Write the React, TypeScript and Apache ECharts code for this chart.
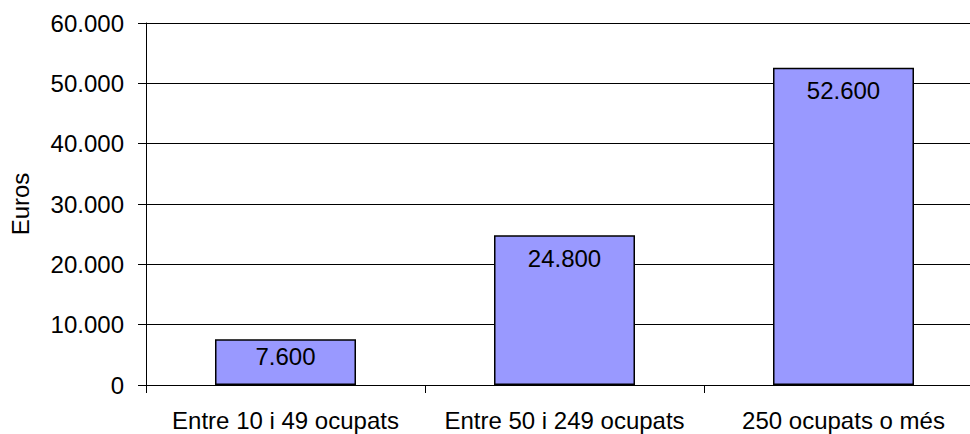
import React, { useEffect, useRef } from "react";
import * as echarts from "echarts";

const categories = ["Entre 10 i 49 ocupats", "Entre 50 i 249 ocupats", "250 ocupats o més"];
const values = [7600, 24800, 52600];
const yTicks = [0, 10000, 20000, 30000, 40000, 50000, 60000];

const fmt = (v: number) => {
  const s = String(Math.round(v));
  return s.replace(/\B(?=(\d{3})+(?!\d))/g, ".");
};

export default function App() {
  const ref = useRef<HTMLDivElement>(null);
  useEffect(() => {
    if (!ref.current) return;
    const chart = echarts.init(ref.current, undefined, { renderer: "svg" });
    const font = "'Liberation Sans', Arial, sans-serif";
    chart.setOption({
      animation: false,
      backgroundColor: "#ffffff",
      grid: { left: 146, right: 0, top: 23, bottom: 49, containLabel: false },
      xAxis: {
        type: "category",
        data: categories,
        axisLine: { show: true, lineStyle: { color: "#000", width: 1 } },
        axisTick: { show: true, length: 8, alignWithLabel: false, lineStyle: { color: "#000" } },
        axisLabel: { color: "#000", fontSize: 24, fontFamily: font, margin: 23, interval: 0 },
        splitLine: { show: false },
      },
      yAxis: {
        type: "value",
        min: yTicks[0],
        max: yTicks[yTicks.length - 1],
        interval: 10000,
        name: "Euros",
        nameLocation: "middle",
        nameGap: 114,
        nameRotate: 90,
        nameTextStyle: { color: "#000", fontSize: 24, fontFamily: font },
        axisLine: { show: true, lineStyle: { color: "#000", width: 1 } },
        axisTick: { show: true, length: 8, inside: false, lineStyle: { color: "#000" } },
        axisLabel: { color: "#000", fontSize: 24, fontFamily: font, margin: 22, formatter: (v: number) => fmt(v) },
        splitLine: { show: true, lineStyle: { color: "#000", width: 1 } },
      },
      series: [
        {
          type: "bar",
          data: values.map((v, i) =>
            i === 0 ? { value: v, label: { distance: 5 } } : { value: v }
          ),
          barWidth: 141,
          itemStyle: { color: "#9999FF", borderColor: "#000", borderWidth: 1.5 },
          label: {
            show: true,
            position: "insideTop",
            distance: 11,
            color: "#000",
            fontSize: 24,
            fontFamily: font,
            formatter: (p: any) => fmt(p.value),
          },
        },
      ],
    });
    return () => chart.dispose();
  }, []);
  return (
    <div
      ref={ref}
      style={{ position: "fixed", left: 0, top: 0, width: 983, height: 434 }}
    />
  );
}
